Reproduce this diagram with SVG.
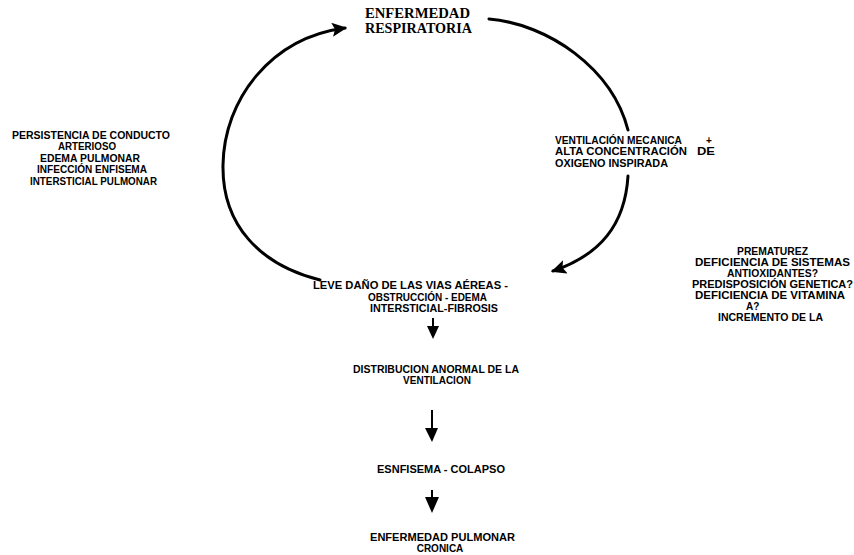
<svg xmlns="http://www.w3.org/2000/svg" width="854" height="555" viewBox="0 0 854 555">
<style>
.t{font-family:"Liberation Sans",Arial,sans-serif;font-weight:bold;font-size:10px;fill:#000}
.h{font-family:"Liberation Serif","Times New Roman",serif;font-weight:bold;font-size:14.5px;fill:#000}
.c{fill:none;stroke:#000;stroke-width:3;stroke-linecap:round}
.s{fill:none;stroke:#000;stroke-width:2}
</style>
<defs>
<marker id="ah" markerUnits="userSpaceOnUse" markerWidth="20" markerHeight="20" refX="13" refY="7" orient="auto">
<path d="M0,0 L15,7 L0,14 L3,7 Z" fill="#000"/>
</marker>
</defs>
<rect width="854" height="555" fill="#fff"/>
<g id="connectors">
<path class="c" d="M320,280 C260,265 222,225 223,165 C224,100 270,38 345,28" marker-end="url(#ah)"/>
<path class="c" d="M489,19 C548,24 612,68 628,130"/>
<path class="c" d="M628,176 C625,225 600,255 553,271" marker-end="url(#ah)"/>
<g id="arrow1"><line class="s" x1="433" y1="318" x2="433" y2="328"/><path d="M427,326 L439,326 L433,339 Z"/></g>
<g id="arrow2"><line class="s" x1="432" y1="410" x2="432" y2="430"/><path d="M425,428 L438,428 L432,442 Z"/></g>
<g id="arrow3"><line class="s" x1="432" y1="490" x2="432" y2="499"/><path d="M425,497 L439,497 L432,513 Z"/></g>
</g>
<g id="enfermedad-respiratoria">
<text class="h" x="365" y="18" textLength="105" lengthAdjust="spacingAndGlyphs">ENFERMEDAD</text>
<text class="h" x="365" y="33" textLength="107" lengthAdjust="spacingAndGlyphs">RESPIRATORIA</text>
</g>
<g id="persistencia">
<text class="t" x="12" y="139" textLength="158" lengthAdjust="spacingAndGlyphs">PERSISTENCIA DE CONDUCTO</text>
<text class="t" x="58" y="150" textLength="58" lengthAdjust="spacingAndGlyphs">ARTERIOSO</text>
<text class="t" x="40" y="162" textLength="100" lengthAdjust="spacingAndGlyphs">EDEMA PULMONAR</text>
<text class="t" x="37" y="173" textLength="110" lengthAdjust="spacingAndGlyphs">INFECCIÓN ENFISEMA</text>
<text class="t" x="30" y="185" textLength="127" lengthAdjust="spacingAndGlyphs">INTERSTICIAL PULMONAR</text>
</g>
<g id="ventilacion-mecanica">
<text class="t" x="555" y="144" textLength="127" lengthAdjust="spacingAndGlyphs">VENTILACIÓN MECANICA</text>
<text class="t" x="706" y="144">+</text>
<text class="t" x="555" y="155" textLength="132" lengthAdjust="spacingAndGlyphs">ALTA  CONCENTRACIÓN</text>
<text class="t" x="697" y="155" textLength="18" lengthAdjust="spacingAndGlyphs">DE</text>
<text class="t" x="555" y="167" textLength="113" lengthAdjust="spacingAndGlyphs">OXIGENO INSPIRADA</text>
</g>
<g id="prematurez">
<text class="t" x="737" y="255" textLength="71" lengthAdjust="spacingAndGlyphs">PREMATUREZ</text>
<text class="t" x="695" y="266" textLength="155" lengthAdjust="spacingAndGlyphs">DEFICIENCIA  DE SISTEMAS</text>
<text class="t" x="727" y="277" textLength="91" lengthAdjust="spacingAndGlyphs">ANTIOXIDANTES?</text>
<text class="t" x="692" y="288" textLength="161" lengthAdjust="spacingAndGlyphs">PREDISPOSICIÓN GENETICA?</text>
<text class="t" x="695" y="299" textLength="150" lengthAdjust="spacingAndGlyphs">DEFICIENCIA  DE VITAMINA</text>
<text class="t" x="746" y="310">A?</text>
<text class="t" x="718" y="321" textLength="105" lengthAdjust="spacingAndGlyphs">INCREMENTO DE LA</text>
</g>
<g id="leve-dano">
<text class="t" x="313" y="289" textLength="195" lengthAdjust="spacingAndGlyphs">LEVE DAÑO DE LAS VIAS AÉREAS -</text>
<text class="t" x="368" y="301" textLength="119" lengthAdjust="spacingAndGlyphs">OBSTRUCCIÓN - EDEMA</text>
<text class="t" x="370" y="312" textLength="128" lengthAdjust="spacingAndGlyphs">INTERSTICIAL-FIBROSIS</text>
</g>
<g id="distribucion">
<text class="t" x="353" y="373" textLength="166" lengthAdjust="spacingAndGlyphs">DISTRIBUCION  ANORMAL DE LA</text>
<text class="t" x="437" y="384" text-anchor="middle">VENTILACION</text>
</g>
<g id="enfisema">
<text class="t" x="377" y="473" textLength="128" lengthAdjust="spacingAndGlyphs">ESNFISEMA - COLAPSO</text>
</g>
<g id="enfermedad-cronica">
<text class="t" x="370" y="541" textLength="145" lengthAdjust="spacingAndGlyphs">ENFERMEDAD PULMONAR</text>
<text class="t" x="440" y="552" text-anchor="middle">CRONICA</text>
</g>
</svg>
